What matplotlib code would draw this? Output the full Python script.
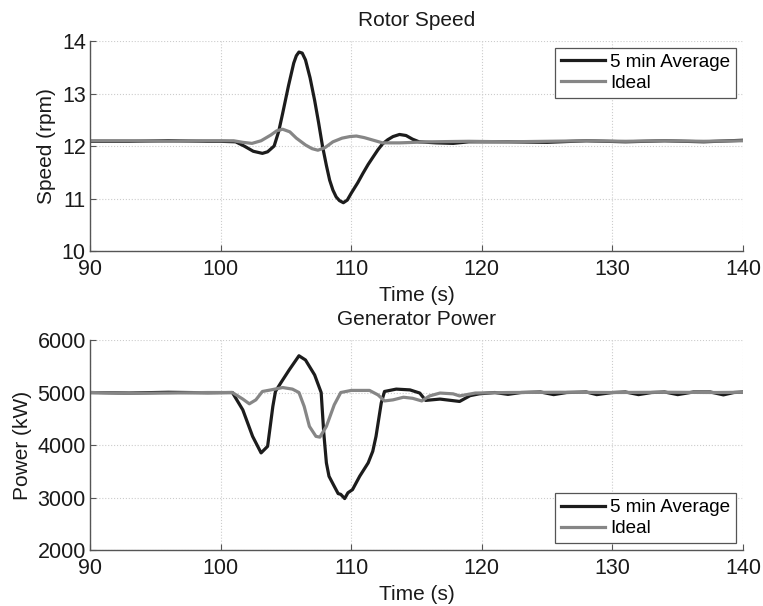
import matplotlib
matplotlib.use("Agg")
import matplotlib.pyplot as plt

plt.rcParams['font.family'] = ['Liberation Sans', 'DejaVu Sans']

# Rotor speed (rpm)
t_spd_avg = [90, 93, 96, 99, 100, 101.15, 101.8, 102.5, 103.2, 103.6, 104.1, 104.45, 104.75, 105.2, 105.6,
             105.8, 106.0, 106.25, 106.5, 106.85, 107.2, 107.5, 107.8, 108.1, 108.35, 108.6, 108.85,
             109.1, 109.4, 109.7, 110.0, 110.5, 110.9, 111.3, 111.7, 112.05, 112.4, 112.8, 113.2,
             113.7, 114.2, 114.7, 115.2, 116.5, 117.8, 119.0, 122, 125, 128, 131, 134, 137, 140]
v_spd_avg = [12.09, 12.09, 12.10, 12.09, 12.09, 12.08, 12.00, 11.90, 11.86, 11.89, 12.00, 12.28, 12.62,
             13.15, 13.58, 13.72, 13.79, 13.77, 13.64, 13.30, 12.87, 12.45, 12.00, 11.63, 11.35, 11.16,
             11.03, 10.96, 10.92, 10.97, 11.10, 11.30, 11.48, 11.65, 11.80, 11.93, 12.04, 12.12, 12.18,
             12.22, 12.20, 12.13, 12.08, 12.06, 12.05, 12.08, 12.08, 12.07, 12.10, 12.08, 12.10, 12.08,
             12.11]

t_spd_ideal = [90, 93, 96, 99, 101.0, 101.7, 102.4, 103.1, 103.85, 104.3, 104.75, 105.3, 105.8, 106.5,
               107.0, 107.45, 108.0, 108.6, 109.3, 109.9, 110.4, 111.0, 111.7, 112.4, 113.7, 116,
               119, 122, 125, 128, 131, 134, 137, 140]
v_spd_ideal = [12.10, 12.10, 12.09, 12.10, 12.10, 12.07, 12.05, 12.10, 12.21, 12.29, 12.32, 12.27, 12.15,
               12.02, 11.95, 11.92, 11.97, 12.08, 12.15, 12.18, 12.19, 12.16, 12.11, 12.06, 12.06, 12.08,
               12.09, 12.08, 12.09, 12.10, 12.09, 12.10, 12.09, 12.10]

# Generator power (kW)
t_pow_avg = [90, 93, 96, 99, 100.9, 101.7, 102.45, 103.1, 103.6, 104.0, 104.2, 104.6, 105.25, 106.0,
             106.5, 107.2, 107.7, 107.9, 108.1, 108.3, 108.7, 109.0, 109.2, 109.5, 109.75, 110.1,
             110.65, 111.3, 111.65, 111.9, 112.3, 112.55, 113.45, 114.5, 115.25, 115.7, 116.8, 118.3,
             119.1, 119.8, 121, 122, 123, 124.5, 125.5, 126.5, 128, 128.8, 130, 131, 132, 133, 134,
             135, 136.2, 137.5, 138.5, 139.3, 140]
p_pow_avg = [5000, 4990, 5005, 4995, 5000, 4670, 4165, 3850, 3975, 4735, 5020, 5180, 5430, 5700,
             5620, 5335, 5000, 4230, 3660, 3405, 3215, 3075, 3060, 2980, 3090, 3150,
             3405, 3660, 3880, 4165, 4800, 5020, 5065, 5050, 4990, 4850, 4875, 4830,
             4940, 4975, 5000, 4965, 5000, 5010, 4960, 5000, 5010, 4960, 5000, 5010, 4960, 5000, 5010,
             4960, 5010, 5010, 4955, 5000, 5010]

t_pow_ideal = [90, 93, 96, 99, 100.9, 101.7, 102.2, 102.7, 103.2, 103.85, 104.75, 105.5, 106.0, 106.4,
               106.8, 107.3, 107.6, 108.1, 108.7, 109.2, 110.0, 111.4, 112.05, 112.55, 113.2, 114.0,
               114.7, 115.4, 116.0, 116.8, 117.8, 118.3, 119.5, 122, 126, 130, 134, 138, 140]
p_pow_ideal = [5000, 4985, 4990, 5000, 5000, 4875, 4785, 4860, 5020, 5050, 5095, 5065, 5000, 4735,
               4355, 4165, 4150, 4355, 4765, 5000, 5040, 5040, 4955, 4840, 4860, 4910,
               4890, 4840, 4935, 4990, 4975, 4935, 4990, 5000, 5005, 5000, 5005, 5000, 5005]

x_ticks = [90, 100, 110, 120, 130, 140]
spd_ticks = [10, 11, 12, 13, 14]
pow_ticks = [2000, 3000, 4000, 5000, 6000]

dark = '#1c1c1c'
gray = '#868686'
spine_col = '#555555'

fig = plt.figure(figsize=(7.63, 6.06), dpi=100)
ax1 = fig.add_axes([90 / 763, 0.5858, 653 / 763, 0.3465])
ax2 = fig.add_axes([90 / 763, 0.0924, 653 / 763, 0.3465])


def style(ax):
    ax.grid(True, linestyle=':', color='#cccccc', linewidth=0.8)
    ax.tick_params(direction='in', labelsize=15.5, length=4, width=0.8, color=spine_col,
                   labelcolor='#1a1a1a', pad=3)
    ax.tick_params(axis='x', pad=6)
    for side in ('top', 'right'):
        ax.spines[side].set_visible(False)
    for side in ('left', 'bottom'):
        ax.spines[side].set_color(spine_col)
        ax.spines[side].set_linewidth(1.0)
    ax.set_xlim(90, 140)
    ax.set_xticks(x_ticks)
    ax.set_xlabel('Time (s)', fontsize=15, labelpad=4, color='#1a1a1a')


def legend(ax, loc):
    leg = ax.legend(loc=loc, fontsize=13.6, handlelength=2.3, frameon=True, fancybox=False,
                    edgecolor=spine_col, borderaxespad=0.35, labelspacing=0.2,
                    handletextpad=0.3, borderpad=0.32, framealpha=1)
    leg.get_frame().set_linewidth(0.9)


ax1.plot(t_spd_avg, v_spd_avg, color=dark, lw=2.3, label='5 min Average', solid_joinstyle='round')
ax1.plot(t_spd_ideal, v_spd_ideal, color=gray, lw=2.3, label='Ideal', solid_joinstyle='round')
style(ax1)
ax1.set_ylim(10, 14)
ax1.set_yticks(spd_ticks)
ax1.set_ylabel('Speed (rpm)', fontsize=15, color='#1a1a1a')
ax1.set_title('Rotor Speed', fontsize=15, pad=11, color='#1a1a1a')
legend(ax1, 'upper right')

ax2.plot(t_pow_avg, p_pow_avg, color=dark, lw=2.3, label='5 min Average', solid_joinstyle='round')
ax2.plot(t_pow_ideal, p_pow_ideal, color=gray, lw=2.3, label='Ideal', solid_joinstyle='round')
style(ax2)
ax2.set_ylim(2000, 6000)
ax2.set_yticks(pow_ticks)
ax2.set_ylabel('Power (kW)', fontsize=15, color='#1a1a1a')
ax2.set_title('Generator Power', fontsize=15, pad=11, color='#1a1a1a')
legend(ax2, 'lower right')

fig.savefig('out.png', dpi=100)
